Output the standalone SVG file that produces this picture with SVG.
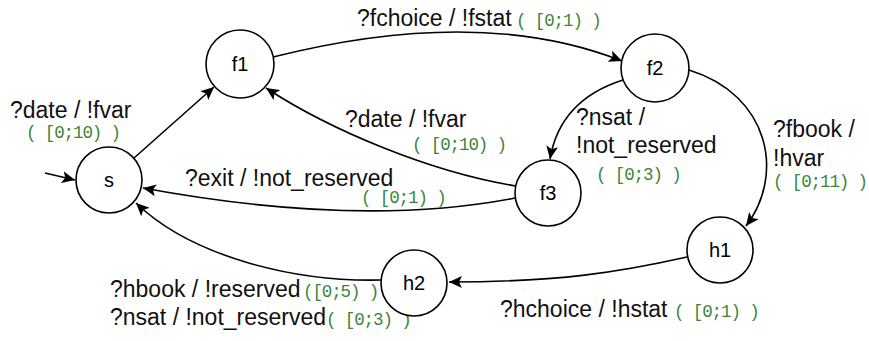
<svg xmlns="http://www.w3.org/2000/svg" width="869" height="341" viewBox="0 0 869 341">
  <style>
    .state circle { fill: #ffffff; stroke: #000000; stroke-width: 1.6; }
    .state text { font-family: "Liberation Sans", Arial, sans-serif; font-size: 20px; fill: #000000; text-anchor: middle; }
    .edge { fill: none; stroke: #000000; stroke-width: 1.6; marker-end: url(#arrow); }
    .lbl { font-family: "Liberation Sans", Arial, sans-serif; font-size: 23px; fill: #111111; }
    .time { font-family: "Liberation Mono", "Courier New", monospace; font-size: 17.5px; letter-spacing: -1.1px; fill: #3a863a; }
  </style>
  <defs>
    <marker id="arrow" markerUnits="userSpaceOnUse" markerWidth="14" markerHeight="12" refX="13" refY="6" orient="auto">
      <path d="M0,0 L13,6 L0,12 L3,6 z" fill="#000000"/>
    </marker>
  </defs>
  <rect width="869" height="341" fill="#ffffff"/>

  <!-- transitions -->
  <g id="connectors">
    <path class="edge" d="M45,173 L75,180"/>
    <path class="edge" d="M134,158 L214,87"/>
    <path class="edge" d="M273,57 Q480,5 622,61"/>
    <path class="edge" d="M516,186 C430,172 330,130 266,88"/>
    <path class="edge" d="M515,198 Q360,228 143,188"/>
    <path class="edge" d="M381,280 C290,282 190,255 136,203"/>
    <path class="edge" d="M623,80 Q560,100 550,159"/>
    <path class="edge" d="M689,70 C770,95 785,175 746,226"/>
    <path class="edge" d="M687,257 C620,272 560,282 449,282"/>
  </g>

  <!-- transition labels -->
  <g id="labels">
    <text class="lbl" x="10" y="118">?date / !fvar</text>
    <text class="time" x="26" y="138">( [0;10) )</text>

    <text class="lbl" x="357" y="26">?fchoice / !fstat</text>
    <text class="time" x="516" y="26">( [0;1) )</text>

    <text class="lbl" x="345" y="127">?date / !fvar</text>
    <text class="time" x="412" y="150">( [0;10) )</text>

    <text class="lbl" x="185" y="186">?exit / !not_reserved</text>
    <text class="time" x="361" y="203">( [0;1) )</text>

    <text class="lbl" x="576" y="125">?nsat /</text>
    <text class="lbl" x="576" y="153">!not_reserved</text>
    <text class="time" x="596" y="180">( [0;3) )</text>

    <text class="lbl" x="773" y="137">?fbook /</text>
    <text class="lbl" x="773" y="166">!hvar</text>
    <text class="time" x="773" y="187">( [0;11) )</text>

    <text class="lbl" x="500" y="317">?hchoice / !hstat</text>
    <text class="time" x="674" y="317">( [0;1) )</text>

    <text class="lbl" x="110" y="297">?hbook / !reserved</text>
    <text class="time" x="303" y="297">([0;5) )</text>

    <text class="lbl" x="110" y="325">?nsat / !not_reserved</text>
    <text class="time" x="326" y="325">( [0;3) )</text>
  </g>

  <!-- states -->
  <g id="s" class="state"><circle cx="109" cy="180" r="33"/><text x="109" y="187">s</text></g>
  <g id="f1" class="state"><circle cx="240" cy="64" r="34"/><text x="240" y="71">f1</text></g>
  <g id="f2" class="state"><circle cx="655" cy="68" r="34"/><text x="655" y="75">f2</text></g>
  <g id="f3" class="state"><circle cx="548" cy="193" r="33"/><text x="548" y="200">f3</text></g>
  <g id="h1" class="state"><circle cx="720" cy="250" r="33"/><text x="720" y="257">h1</text></g>
  <g id="h2" class="state"><circle cx="414" cy="283" r="33"/><text x="414" y="290">h2</text></g>
</svg>
